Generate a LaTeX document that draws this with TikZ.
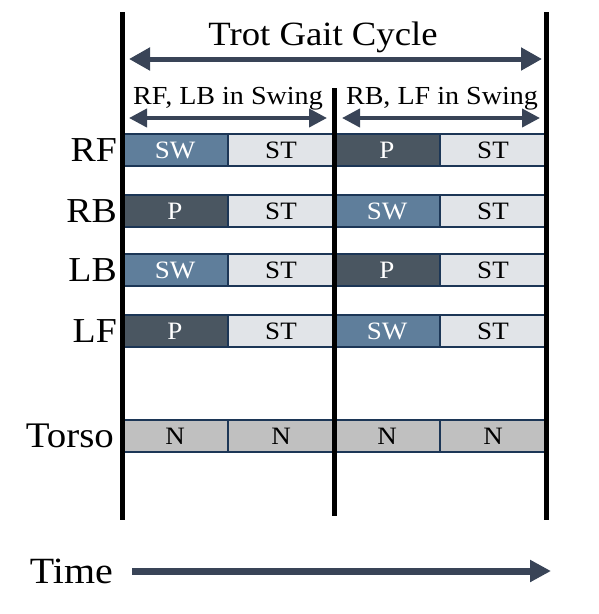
\documentclass[tikz,border=0pt]{standalone}
\usepackage{fontspec}
\setmainfont{Liberation Serif}[FakeStretch=1.08]
\usetikzlibrary{arrows.meta}
\definecolor{swc}{HTML}{5F7E9B}
\definecolor{pc}{HTML}{4A5661}
\definecolor{stc}{HTML}{E1E4E8}
\definecolor{nc}{HTML}{C0C0C0}
\definecolor{bdr}{HTML}{1C3656}
\definecolor{arr}{HTML}{394457}
\begin{document}
\begin{tikzpicture}[x=1pt,y=-1pt,
  cell/.style={draw=bdr, line width=2.5pt, minimum width=106pt, minimum height=32pt, inner sep=0pt, font=\fontsize{25}{25}\selectfont},
  swcell/.style={cell, fill=swc, text=white},
  pcell/.style={cell, fill=pc, text=white},
  stcell/.style={cell, fill=stc, text=black},
  ncell/.style={cell, fill=nc, text=black},
  rowlbl/.style={anchor=east, inner sep=0pt, font=\fontsize{35}{35}\selectfont},
  vline/.style={line width=5pt, black},
  bigarrow/.style={draw=arr, line width=5pt, {Triangle[length=21pt,width=22pt]}-{Triangle[length=21pt,width=22pt]}, arr},
  subarrow/.style={draw=arr, line width=4pt, {Triangle[length=18pt,width=18pt]}-{Triangle[length=18pt,width=18pt]}, arr},
  timearrow/.style={draw=arr, line width=7pt, -{Triangle[length=21pt,width=21pt]}, arr}
]
\useasboundingbox (0,0) rectangle (598,614);

% title and arrows
\node[anchor=base, inner sep=0pt, font=\fontsize{34}{34}\selectfont] (title) at (323,45) {Trot Gait Cycle};
\coordinate (ta1) at (129,59);
\coordinate (ta2) at (542,59);
\draw[bigarrow] (ta1) -- (ta2);

\node[anchor=base, inner sep=0pt, font=\fontsize{26}{26}\selectfont] (sub1) at (228,104) {RF, LB in Swing};
\node[anchor=base, inner sep=0pt, font=\fontsize{26}{26}\selectfont] (sub2) at (442,104) {RB, LF in Swing};
\coordinate (sa1) at (129,118);
\coordinate (sa2) at (327,118);
\coordinate (sb1) at (342,118);
\coordinate (sb2) at (540,118);
\draw[subarrow] (sa1) -- (sa2);
\draw[subarrow] (sb1) -- (sb2);

% rows
\node[swcell] (rf1) at (175,150) {SW};
\node[stcell] (rf2) at (281,150) {ST};
\node[pcell]  (rf3) at (387,150) {P};
\node[stcell] (rf4) at (493,150) {ST};

\node[pcell]  (rb1) at (175,211) {P};
\node[stcell] (rb2) at (281,211) {ST};
\node[swcell] (rb3) at (387,211) {SW};
\node[stcell] (rb4) at (493,211) {ST};

\node[swcell] (lb1) at (175,270) {SW};
\node[stcell] (lb2) at (281,270) {ST};
\node[pcell]  (lb3) at (387,270) {P};
\node[stcell] (lb4) at (493,270) {ST};

\node[pcell]  (lf1) at (175,331) {P};
\node[stcell] (lf2) at (281,331) {ST};
\node[swcell] (lf3) at (387,331) {SW};
\node[stcell] (lf4) at (493,331) {ST};

\node[ncell] (t1) at (175,436) {N};
\node[ncell] (t2) at (281,436) {N};
\node[ncell] (t3) at (387,436) {N};
\node[ncell] (t4) at (493,436) {N};

\node[rowlbl] (lrf) at (117,150) {RF};
\node[rowlbl] (lrb) at (117,211) {RB};
\node[rowlbl] (llb) at (117,270) {LB};
\node[rowlbl] (llf) at (117,331) {LF};
\node[anchor=base east, inner sep=0pt, font=\fontsize{36}{36}\selectfont] (ltorso) at (114,447) {Torso};

% vertical lines
\coordinate (v1a) at (122,12);
\coordinate (v1b) at (122,520);
\coordinate (v2a) at (334,88);
\coordinate (v2b) at (334,516);
\coordinate (v3a) at (546,12);
\coordinate (v3b) at (546,520);
\draw[vline] (v1a) -- (v1b);
\draw[vline] (v2a) -- (v2b);
\draw[vline] (v3a) -- (v3b);

% time
\node[anchor=base east, inner sep=0pt, font=\fontsize{37}{37}\selectfont] (time) at (113,583) {Time};
\coordinate (tm1) at (132,571);
\coordinate (tm2) at (551,571);
\draw[timearrow] (tm1) -- (tm2);
\end{tikzpicture}
\end{document}
